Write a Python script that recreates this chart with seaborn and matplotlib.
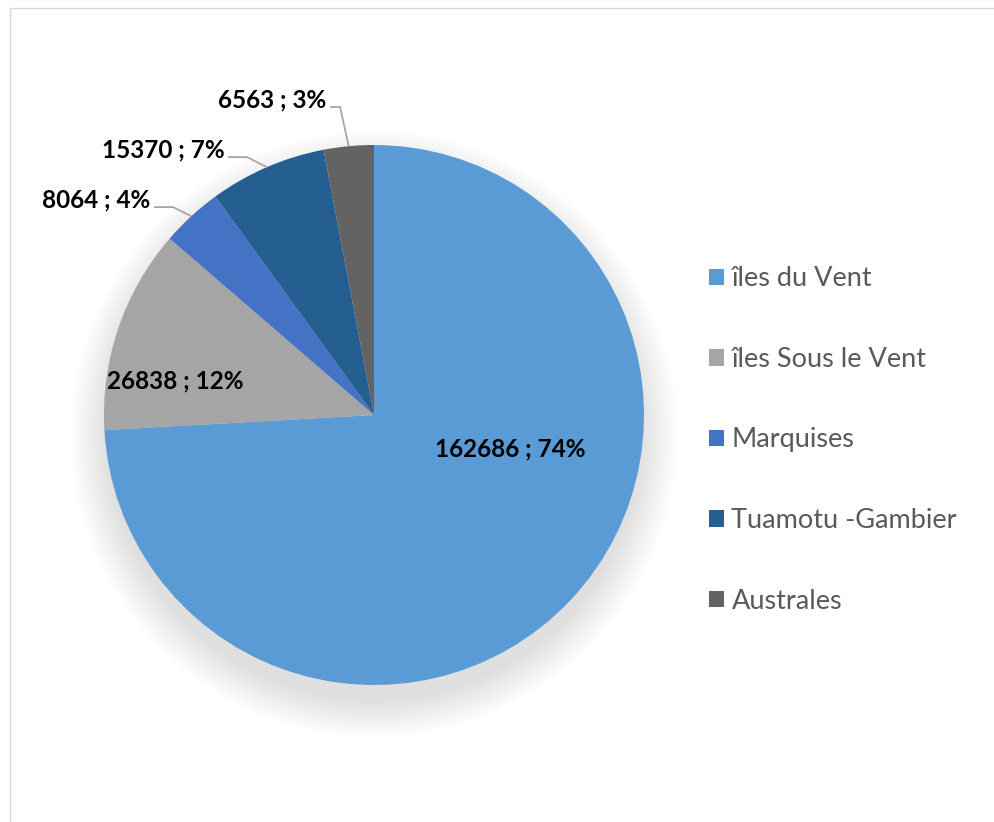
import numpy as np
import pandas as pd
import matplotlib
matplotlib.use("Agg")
import matplotlib.pyplot as plt
import matplotlib.patches as mpatches
import seaborn as sns

# Data
regions = ["îles du Vent", "îles Sous le Vent", "Marquises", "Tuamotu -Gambier", "Australes"]
population = [162686, 26838, 8064, 15370, 6563]
colors = ["#5B9BD5", "#A5A5A5", "#4472C4", "#255E91", "#636363"]

df = pd.DataFrame({"region": regions, "pop": population})
df["pct"] = df["pop"] / df["pop"].sum() * 100

sns.set_theme(style="white")
plt.rcParams["font.family"] = ["Lato", "DejaVu Sans"]

fig = plt.figure(figsize=(9.94, 8.22), dpi=100)
fig.patch.set_facecolor("white")

# light frame around the chart area
fig.patches.append(mpatches.Rectangle((10 / 994, -0.02), 1.2, 1 - 8 / 822 + 0.02,
                                      transform=fig.transFigure, fill=False,
                                      edgecolor="#D9D9D9", linewidth=1))

ax = fig.add_axes([104 / 994, (822 - 685) / 822, 540 / 994, 540 / 822])

# soft shadow under the pie
for i in range(16):
    r = 0.99 + i * 0.009
    ax.add_patch(mpatches.Circle((0, -0.07), r, color="black", alpha=0.009, lw=0,
                                 zorder=0, clip_on=False))

wedges, _ = ax.pie(df["pop"], colors=colors, startangle=90, counterclock=False,
                   radius=1.0, wedgeprops=dict(linewidth=0, clip_on=False))
for w in wedges:
    w.set_zorder(2)
ax.set_xlim(-1, 1)
ax.set_ylim(-1, 1)
ax.set_aspect("equal")
ax.axis("off")

labels = [f"{v} ; {p:.0f}%" for v, p in zip(df["pop"], df["pct"])]

# label positions (radius units) picked to follow the original layout
inside_pos = {0: (0.504, -0.126), 1: (-0.737, 0.126)}
outside_pos = {2: (-1.03, 0.796), 3: (-0.782, 0.981), 4: (-0.378, 1.167)}

fig.canvas.draw()
for i, w in enumerate(wedges):
    lab = labels[i]
    if i in inside_pos:
        x, y = inside_pos[i]
        ax.text(x, y, lab, ha="center", va="center", fontsize=17.5, fontweight="bold",
                color="black", zorder=3, clip_on=False)
    else:
        x, y = outside_pos[i]
        t = ax.text(x, y, lab, ha="center", va="center", fontsize=17.5, fontweight="bold",
                    color="black", zorder=3, clip_on=False)
        mid = np.deg2rad((w.theta1 + w.theta2) / 2)
        ex, ey = np.cos(mid), np.sin(mid)
        bb = t.get_window_extent(renderer=fig.canvas.get_renderer()).transformed(
            ax.transData.inverted())
        sx = bb.x1 + 0.015
        sy = y - 0.026
        kx = sx + (0.07 if i != 4 else 0.037)
        ax.plot([sx, kx, ex], [sy, sy, ey], color="#A6A6A6", lw=1.3, zorder=3,
                solid_capstyle="butt", clip_on=False)

handles = [mpatches.Patch(facecolor=c, edgecolor="none") for c in colors]
leg = fig.legend(handles, regions, loc="center left", bbox_to_anchor=(709 / 994, 1 - 440 / 822),
                 frameon=False, fontsize=19.5, labelspacing=2.05, handlelength=0.56,
                 handleheight=0.56, handletextpad=0.27, borderpad=0, borderaxespad=0)
for txt in leg.get_texts():
    txt.set_color("#595959")

fig.savefig("out.png", dpi=100, facecolor="white")
